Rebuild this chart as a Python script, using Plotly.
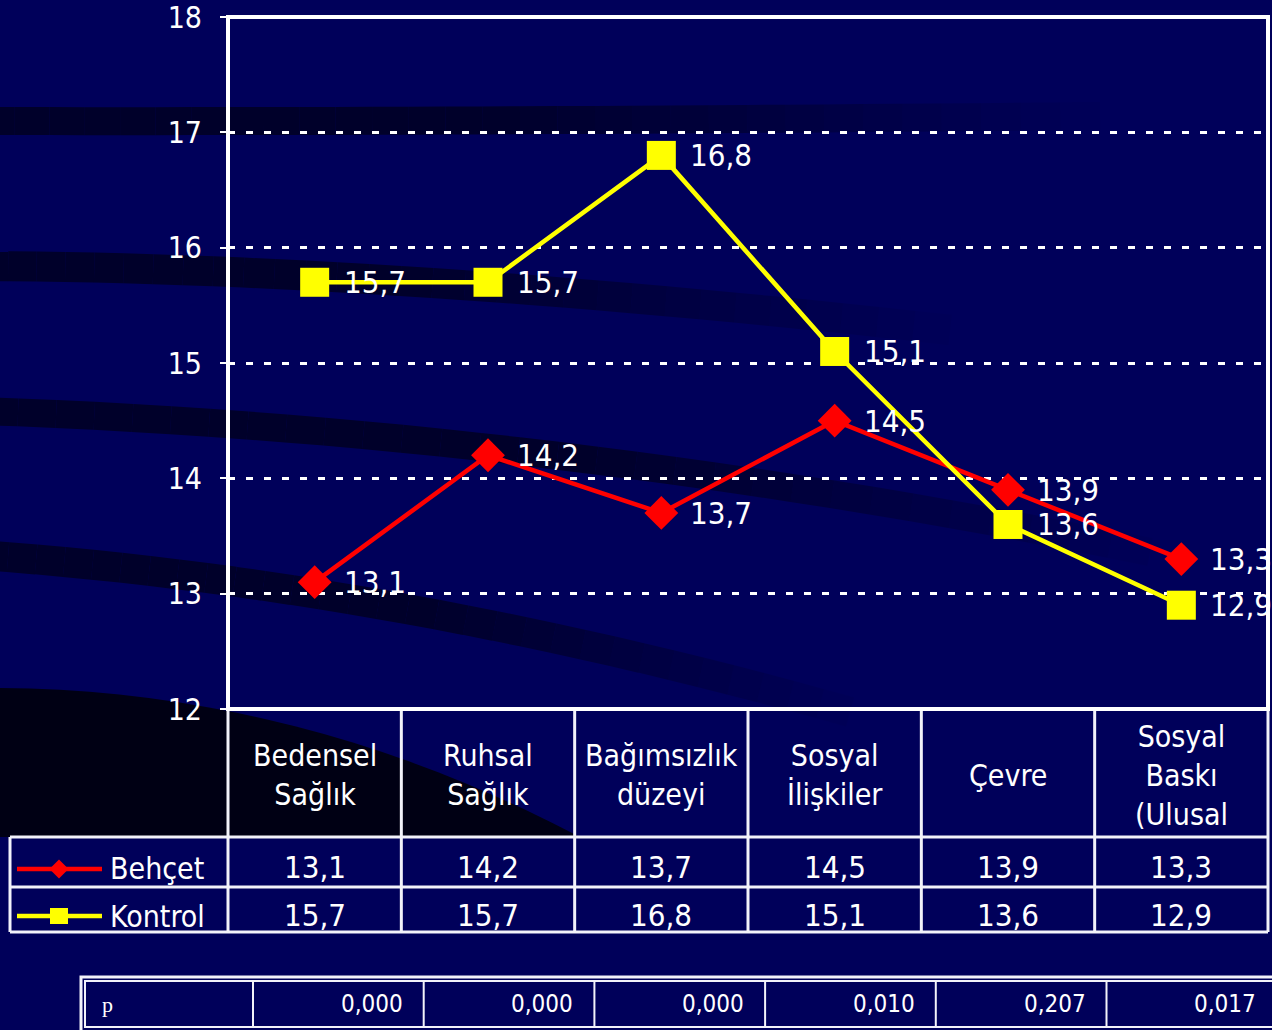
import plotly.graph_objects as go

# ---------------- data ----------------
categories = ["Bedensel<br>Sağlık", "Ruhsal<br>Sağlık", "Bağımsızlık<br>düzeyi",
              "Sosyal<br>İlişkiler", "Çevre", "Sosyal<br>Baskı<br>(Ulusal"]
behcet = [13.1, 14.2, 13.7, 14.5, 13.9, 13.3]
kontrol = [15.7, 15.7, 16.8, 15.1, 13.6, 12.9]
p_values = [0.000, 0.000, 0.000, 0.010, 0.207, 0.017]
series_names = ["Behçet", "Kontrol"]
series_colors = ["#FF0000", "#FFFF00"]
y_ticks = [12, 13, 14, 15, 16, 17, 18]

# ---------------- layout helpers ----------------
W, H = 1272, 1030
PL, PR, PT, PB = 228, 1268, 17, 709
BG = "#00005A"
DARK = "#00002A"
FONT = "DejaVu Sans Condensed, DejaVu Sans, sans-serif"
LINE_C = "#F2F2FA"


def fx(x):
    return x / W


def fy(y):
    return 1 - y / H


def fmt(v, d=1):
    return f"{v:.{d}f}".replace(".", ",")


n = len(categories)
idx = list(range(n))
colw = (PR - PL) / n

fig = go.Figure()
fig.add_trace(go.Scatter(
    x=idx, y=behcet, mode="lines+markers", name=series_names[0],
    line=dict(color=series_colors[0], width=4.5),
    marker=dict(symbol="diamond", size=26, color=series_colors[0]),
    cliponaxis=False,
))
fig.add_trace(go.Scatter(
    x=idx, y=kontrol, mode="lines+markers", name=series_names[1],
    line=dict(color=series_colors[1], width=4.5),
    marker=dict(symbol="square", size=29, color=series_colors[1]),
    cliponaxis=False,
))

annotations = []
# data labels
for series in (behcet, kontrol):
    for i, v in enumerate(series):
        annotations.append(dict(
            x=i, y=v, xref="x", yref="y", text=fmt(v), showarrow=False,
            xanchor="left", yanchor="middle", xshift=27,
            font=dict(family=FONT, size=31, color="white"),
        ))

# table headers and values
row_y = [868, 916]
for i in idx:
    annotations.append(dict(
        x=i, y=fy(775), xref="x", yref="paper", text=categories[i],
        showarrow=False, xanchor="center", yanchor="middle", align="center",
        font=dict(family=FONT, size=30, color="white"),
    ))
    for r, series in enumerate((behcet, kontrol)):
        annotations.append(dict(
            x=i, y=fy(row_y[r] - 1), xref="x", yref="paper", text=fmt(series[i]),
            showarrow=False, xanchor="center", yanchor="middle",
            font=dict(family=FONT, size=31, color="white"),
        ))

# legend labels in table
for r, name in enumerate(series_names):
    annotations.append(dict(
        x=fx(108), y=fy(row_y[r]), xref="paper", yref="paper", text=name,
        showarrow=False, xanchor="left", yanchor="middle",
        font=dict(family=FONT, size=30, color="white"),
    ))

# p-value row
p_left, p_first = 85, 253
p_w = 170.7
p_y = 1004
annotations.append(dict(
    x=fx(100), y=fy(p_y), xref="paper", yref="paper", text="p",
    showarrow=False, xanchor="left", yanchor="middle",
    font=dict(family="Liberation Serif, serif", size=22, color="white"),
))
for k, pv in enumerate(p_values):
    right = p_first + (k + 1) * p_w - 19
    annotations.append(dict(
        x=fx(right), y=fy(p_y), xref="paper", yref="paper", text=fmt(pv, 3),
        showarrow=False, xanchor="right", yanchor="middle",
        font=dict(family=FONT, size=24, color="white"),
    ))

shapes = []


def path_px(pts_cmds, close=True):
    out = []
    for cmd, pts in pts_cmds:
        for (x, y) in pts:
            out.append(f"{cmd}{fx(x):.5f},{fy(y):.5f}")
            if cmd == "M":
                cmd = "L"
    return " ".join(out) + (" Z" if close else "")


def quad(p0, c, p1, steps=24):
    pts = []
    for s in range(steps + 1):
        t = s / steps
        x = (1 - t) ** 2 * p0[0] + 2 * (1 - t) * t * c[0] + t ** 2 * p1[0]
        y = (1 - t) ** 2 * p0[1] + 2 * (1 - t) * t * c[1] + t ** 2 * p1[1]
        pts.append((x, y))
    return pts


# decorative background bands: smooth curves fading towards the right
bands = [
    (28, (-20, 121), (500, 122), (1100, 116), 0.45),
    (30, (-20, 266), (400, 268), (950, 330), 0.45),
    (28, (-20, 411), (550, 430), (1150, 552), 0.5),
    (30, (-20, 555), (400, 585), (850, 712), 0.5),
]
for wdt, p0, c, p1, fade_start in bands:
    pts = quad(p0, c, p1, steps=30)
    m = len(pts) - 1
    for j in range(m):
        t = j / m
        op = 1.0 if t < fade_start else max(0.0, 1 - (t - fade_start) / (1 - fade_start))
        if op <= 0.02:
            continue
        shapes.append(dict(
            type="path", path=path_px([("M", [pts[j], pts[j + 1]])], close=False),
            xref="paper", yref="paper", fillcolor="rgba(0,0,0,0)",
            line=dict(color=DARK, width=wdt), opacity=op, layer="below"))
corner = [(0, 688)] + quad((0, 688), (300, 690), (580, 837), steps=20)[1:] + [(0, 837)]
shapes.append(dict(type="path", path=path_px([("M", corner)]),
                   xref="paper", yref="paper", fillcolor="#000014",
                   line=dict(width=0), layer="below"))


def hline(x0, x1, y, w=3):
    shapes.append(dict(type="line", xref="paper", yref="paper", x0=fx(x0), x1=fx(x1),
                       y0=fy(y), y1=fy(y), line=dict(color=LINE_C, width=w)))


def vline(x, y0, y1, w=3):
    shapes.append(dict(type="line", xref="paper", yref="paper", x0=fx(x), x1=fx(x),
                       y0=fy(y0), y1=fy(y1), line=dict(color=LINE_C, width=w)))


# data table grid
for y in (837, 887, 932):
    hline(10, PR, y)
vline(10, 837, 932)
for k in range(n + 1):
    vline(PL + k * colw, PB, 932)

# legend keys inside the table
key_cx = 59
for r, col in enumerate(series_colors):
    yk = row_y[r] + 1 if r == 0 else row_y[r]
    shapes.append(dict(type="line", xref="paper", yref="paper", x0=fx(17), x1=fx(102),
                       y0=fy(yk), y1=fy(yk), line=dict(color=col, width=4.5)))
    if r == 0:
        d = 9.5
        shapes.append(dict(type="path", xref="paper", yref="paper",
                           path=path_px([("M", [(key_cx - d, yk), (key_cx, yk - d),
                                                (key_cx + d, yk), (key_cx, yk + d)])]),
                           fillcolor=col, line=dict(width=0)))
    else:
        s = 9
        shapes.append(dict(type="rect", xref="paper", yref="paper",
                           x0=fx(key_cx - s), x1=fx(key_cx + s), y0=fy(yk + 8), y1=fy(yk - 8),
                           fillcolor=col, line=dict(width=0)))

# p table
shapes.append(dict(type="rect", xref="paper", yref="paper", x0=fx(81), x1=fx(1300),
                   y0=fy(1045), y1=fy(977), line=dict(color=LINE_C, width=3)))
shapes.append(dict(type="rect", xref="paper", yref="paper", x0=fx(p_left), x1=fx(1300),
                   y0=fy(1027), y1=fy(981), line=dict(color=LINE_C, width=2)))
for k in range(n):
    vline(p_first + k * p_w, 981, 1027, w=2)

# plot border
shapes.append(dict(type="rect", xref="paper", yref="paper", x0=fx(PL), x1=fx(PR),
                   y0=fy(PB), y1=fy(PT), line=dict(color="white", width=4)))

fig.update_layout(
    width=W, height=H,
    margin=dict(l=0, r=0, t=0, b=0, autoexpand=False),
    paper_bgcolor=BG, plot_bgcolor="rgba(0,0,0,0)",
    showlegend=False,
    xaxis=dict(domain=[fx(PL), fx(PR)], range=[-0.5, n - 0.5], showgrid=False,
               zeroline=False, showticklabels=False, ticks="", fixedrange=True,
               automargin=False),
    yaxis=dict(domain=[fy(PB), fy(PT)], range=[12, 18], tickvals=y_ticks,
               showgrid=True, gridcolor="white", gridwidth=2.5, griddash="7px,11px",
               zeroline=False, ticks="outside", ticklen=7, tickwidth=2, tickcolor="white",
               ticklabelstandoff=12, ticklabeloverflow="allow", automargin=False,
               fixedrange=True,
               tickfont=dict(family=FONT, size=30, color="white")),
    annotations=annotations,
    shapes=shapes,
)

fig.write_html("out.html",
               config={"displayModeBar": False},
               post_script="document.body.style.margin='0px';"
                           "document.body.style.overflow='hidden';")
